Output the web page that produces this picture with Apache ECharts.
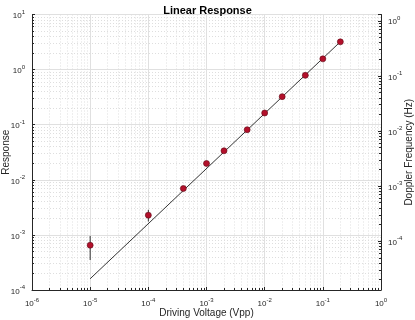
<!DOCTYPE html>
<html>
<head>
<meta charset="utf-8">
<script src="https://cdn.jsdelivr.net/npm/echarts@6/dist/echarts.min.js"></script>
<style>
  html, body { margin: 0; padding: 0; background: #fff; }
  #chart { width: 415px; height: 320px; }
</style>
</head>
<body>
<div id="chart"></div>
<script>
var voltage = [1e-5, 1e-4, 4e-4, 1e-3, 2e-3, 5e-3, 1e-2, 2e-2, 5e-2, 1e-1, 2e-1];
var response = [6.5e-4, 2.28e-3, 6.95e-3, 0.0198, 0.0336, 0.081, 0.163, 0.323, 0.787, 1.566, 3.19];
var errX = [1e-5, 1e-4];
var errLow = [3.5e-4, 1.75e-3];
var errHigh = [9.6e-4, 2.85e-3];
var fitX = [1e-5, 0.2];
var fitY = [1.6e-4, 3.2];
var xRange = [1e-6, 1];
var yRange = [1e-4, 10];
var dopplerRange = [1.3e-5, 1.3];

var axisColor = '#262626';
var font = 'Liberation Sans';

function powLabel(v) {
  var l = Math.log10(v);
  var e = Math.round(l);
  if (Math.abs(l - e) > 1e-6) return '';
  return '{b|10}{s|' + e + '}';
}
var labelRich = {
  b: { fontSize: 8, fontFamily: font, color: axisColor, lineHeight: 11, verticalAlign: 'bottom' },
  s: { fontSize: 6, fontFamily: font, color: axisColor, lineHeight: 6, verticalAlign: 'top' }
};

function logAxis(extra) {
  var a = {
    type: 'log',
    logBase: 10,
    axisLine: { show: true, onZero: false, lineStyle: { color: axisColor, width: 1 } },
    axisTick: { show: true, inside: true, length: 3, lineStyle: { color: axisColor } },
    minorTick: { show: true, splitNumber: 9, length: 2, lineStyle: { color: axisColor } },
    splitLine: { show: true, lineStyle: { color: '#e0e0e0', width: 1 } },
    minorSplitLine: { show: true, lineStyle: { color: '#dedede', type: [1, 2], width: 1 } },
    axisLabel: { formatter: powLabel, rich: labelRich, margin: 7 },
    nameMoveOverlap: false,
    nameTextStyle: { fontFamily: font, fontSize: 10, color: axisColor }
  };
  for (var k in extra) a[k] = extra[k];
  return a;
}

var chart = echarts.init(document.getElementById('chart'));
var option = {
  animation: false,
  title: {
    text: 'Linear Response',
    left: 'center',
    top: 0,
    textStyle: { fontFamily: font, fontSize: 11, fontWeight: 'bold', color: '#000' }
  },
  grid: { left: 32, right: 34, top: 14.5, bottom: 30, outerBoundsMode: 'none', containLabel: false },
  xAxis: logAxis({
    min: xRange[0], max: xRange[1],
    name: 'Driving Voltage (Vpp)', nameLocation: 'middle', nameGap: 18
  }),
  yAxis: [
    logAxis({
      min: yRange[0], max: yRange[1],
      name: 'Response', nameLocation: 'middle', nameGap: 21
    }),
    logAxis({
      min: dopplerRange[0], max: dopplerRange[1], position: 'right',
      splitLine: { show: false }, minorSplitLine: { show: false },
      name: 'Doppler Frequency (Hz)', nameLocation: 'middle', nameGap: 23, nameRotate: 90
    })
  ],
  series: [
    {
      type: 'line',
      data: fitX.map(function (x, i) { return [x, fitY[i]]; }),
      showSymbol: false,
      lineStyle: { color: '#000', width: 0.8 },
      silent: true
    },
    {
      type: 'custom',
      data: errX.map(function (x, i) { return [x, errLow[i], errHigh[i]]; }),
      renderItem: function (params, api) {
        var a = api.coord([api.value(0), api.value(1)]);
        var b = api.coord([api.value(0), api.value(2)]);
        return {
          type: 'line',
          shape: { x1: a[0], y1: a[1], x2: b[0], y2: b[1] },
          style: { stroke: '#333', lineWidth: 1 }
        };
      },
      z: 3
    },
    {
      type: 'scatter',
      data: voltage.map(function (x, i) { return [x, response[i]]; }),
      symbolSize: 6,
      itemStyle: { color: '#b3102b', borderColor: '#5e0a16', borderWidth: 0.6, opacity: 1 },
      z: 4
    }
  ]
};
chart.setOption(option);
</script>
</body>
</html>
